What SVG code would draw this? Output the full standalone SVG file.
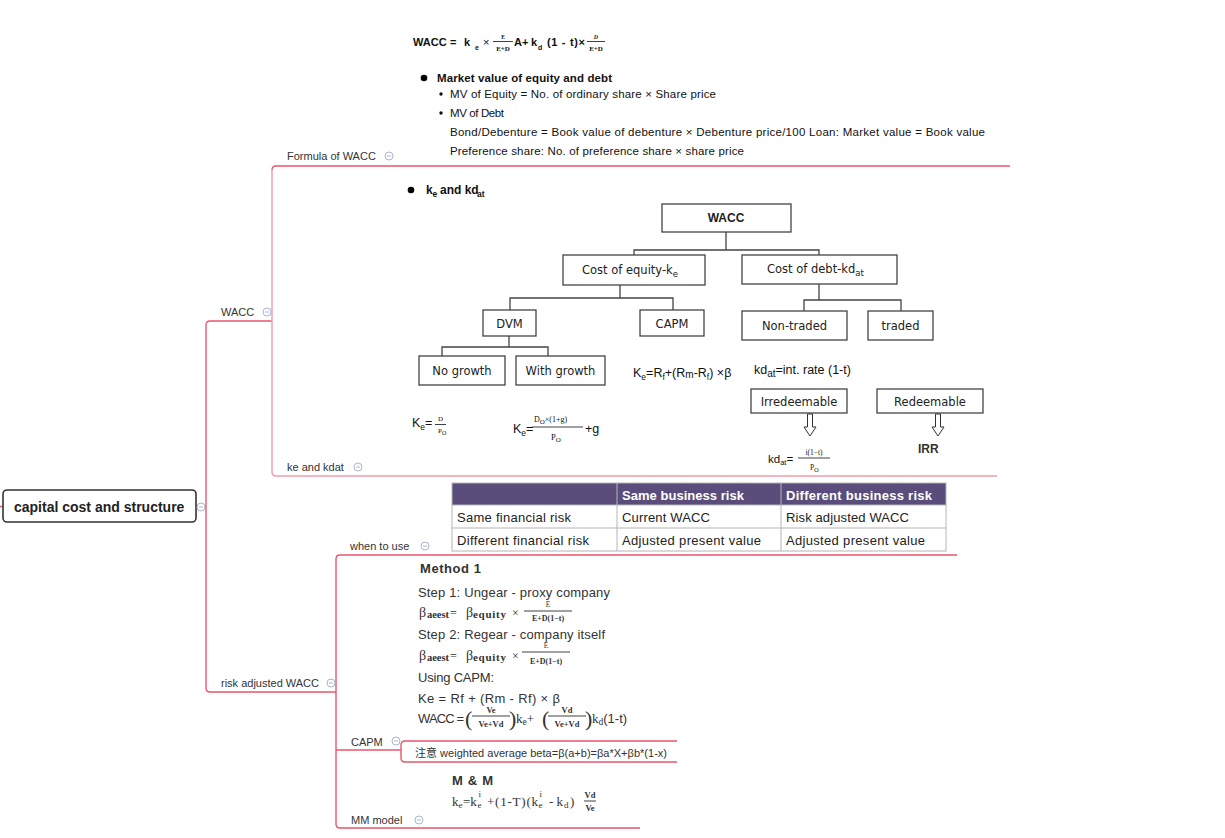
<svg xmlns="http://www.w3.org/2000/svg" width="1225" height="838" viewBox="0 0 1225 838">
<defs>
<style>
.lbl{font-family:"Liberation Sans",Arial,sans-serif;font-size:11px;fill:#333}
.icon circle{fill:#fff;stroke:#a9b6d3;stroke-width:1}
.icon line{stroke:#a9b6d3;stroke-width:1}
.conn{fill:none;stroke:#e8566e;stroke-width:1.4}
.connl{fill:none;stroke:#f29ba8;stroke-width:1.4}
.box{fill:#fff;stroke:#444;stroke-width:1.3}
.tree{fill:none;stroke:#444;stroke-width:1.3}
.bt{font-family:"DejaVu Sans",Verdana,sans-serif;font-size:11.5px;fill:#222}
.cal{font-family:"Liberation Sans",Arial,sans-serif;fill:#111}
.ser{font-family:"Liberation Serif","Times New Roman",serif;fill:#111}
.fr{stroke:#111;stroke-width:0.8}
.tb{font-family:"Liberation Sans",Arial,sans-serif;font-size:13px;fill:#222}
.m1{font-family:"Liberation Sans",Arial,sans-serif;font-size:13px;fill:#333}
</style>
</defs>
<rect width="1225" height="838" fill="#fff"/>

<g id="connectors">
<path class="conn" d="M0 506.5 H3"/>
<path class="conn" d="M196 506.5 H206"/>
<path class="conn" d="M272 321 H210 Q206 321 206 325 V688 Q206 692 210 692 H336"/>
<path class="conn" d="M1010 166 H276 Q272 166 272 170"/>
<path class="connl" d="M272 170 V472 Q272 476 276 476 H997"/>
<path class="conn" d="M957 555 H340 Q336 555 336 559 V824 Q336 828 340 828 H640"/>
<path class="conn" d="M336 750 H401"/>
<path class="conn" d="M677 741 H405 Q401 741 401 745 V758 Q401 762 405 762 H677"/>
</g>

<g id="root">
<rect x="3" y="490" width="193" height="32" rx="4" fill="#fff" stroke="#333" stroke-width="1.6"/>
<text x="14" y="512" font-family="Liberation Sans,Arial,sans-serif" font-size="14" font-weight="bold" fill="#222">capital cost and structure</text>
<g class="icon"><circle cx="201" cy="507" r="4"/><line x1="199" y1="507" x2="203" y2="507"/></g>
</g>

<g id="wacc">
<text class="lbl" x="221" y="316">WACC</text>
<g class="icon"><circle cx="267" cy="312" r="4"/><line x1="265" y1="312" x2="269" y2="312"/></g>
</g>

<g id="formula-of-wacc">
<text class="lbl" x="287" y="160">Formula of WACC</text>
<g class="icon"><circle cx="389" cy="156" r="4"/><line x1="387" y1="156" x2="391" y2="156"/></g>
<g class="cal" font-weight="bold" font-size="11">
<text x="413" y="46">WACC</text>
<text x="450" y="46">=</text>
<text x="464" y="46">k</text>
<text x="475" y="49.5" font-size="7">e</text>
<text x="483" y="46" font-weight="normal">×</text>
<text x="503" y="38.5" font-size="5.5" text-anchor="middle" class="ser">E</text>
<line class="fr" x1="493" y1="41.5" x2="513" y2="41.5"/>
<text x="503" y="51" font-size="7" text-anchor="middle" class="ser" font-weight="bold">E+D</text>
<text x="514" y="46">A+</text>
<text x="531" y="46">k</text>
<text x="538" y="49.5" font-size="7">d</text>
<text x="547" y="46" textLength="38">(1 - t)×</text>
<text x="596" y="38.5" font-size="6" text-anchor="middle" class="ser" font-style="italic">D</text>
<line class="fr" x1="587" y1="41.5" x2="605" y2="41.5"/>
<text x="596" y="51" font-size="7" text-anchor="middle" class="ser" font-weight="bold">E+D</text>
</g>
<circle cx="424" cy="78" r="3.3" fill="#000"/>
<text class="cal" x="437" y="82" font-size="11.5" font-weight="bold" textLength="175">Market value of equity and debt</text>
<circle cx="441" cy="94" r="1.7" fill="#111"/>
<text class="cal" x="450" y="98" font-size="11.5" textLength="266">MV of Equity = No. of ordinary share × Share price</text>
<circle cx="441" cy="113" r="1.7" fill="#111"/>
<text class="cal" x="450" y="117" font-size="11.5" textLength="54">MV of Debt</text>
<text class="cal" x="450" y="136" font-size="11.5" textLength="535">Bond/Debenture = Book value of debenture × Debenture price/100 Loan: Market value = Book value</text>
<text class="cal" x="450" y="155" font-size="11.5" textLength="294">Preference share: No. of preference share × share price</text>
</g>

<g id="ke-and-kdat">
<text class="lbl" x="287" y="471">ke and kdat</text>
<g class="icon"><circle cx="358" cy="467" r="4"/><line x1="356" y1="467" x2="360" y2="467"/></g>
<circle cx="411" cy="190" r="3.3" fill="#000"/>
<g class="cal" font-weight="bold" font-size="12">
<text x="426" y="194">k</text>
<text x="432.5" y="197" font-size="8.5">e</text>
<text x="440" y="194">and kd</text>
<text x="477" y="197" font-size="8.5">at</text>
</g>
<path class="tree" d="M726 232 V250 M634 255 V250 H819 V255 M620 285 V298 M510 310 V298 H673 V310 M819 284 V300 M804 311 V300 H901 V311 M509 335 V347 M442 356 V347 H548 V356"/>
<g id="n-wacc"><rect class="box" x="662" y="204" width="129" height="28"/><text x="726" y="222" text-anchor="middle" font-family="Liberation Sans,Arial,sans-serif" font-weight="bold" font-size="12" fill="#222">WACC</text></g>
<g id="n-equity"><rect class="box" x="563" y="255" width="142" height="30"/><text class="bt" x="582" y="274" font-size="12">Cost of equity-k<tspan font-size="8.5" dy="3">e</tspan></text></g>
<g id="n-debt"><rect class="box" x="742" y="255" width="155" height="29"/><text class="bt" x="767" y="273" font-size="12">Cost of debt-kd<tspan font-size="8.5" dy="3">at</tspan></text></g>
<g id="n-dvm"><rect class="box" x="483" y="310" width="53" height="26"/><text class="bt" x="509.5" y="328" text-anchor="middle">DVM</text></g>
<g id="n-capm"><rect class="box" x="640" y="310" width="64" height="26"/><text class="bt" x="672" y="328" text-anchor="middle">CAPM</text></g>
<g id="n-nontraded"><rect class="box" x="742" y="311" width="105" height="29"/><text class="bt" x="794.5" y="330" text-anchor="middle" font-size="12">Non-traded</text></g>
<g id="n-traded"><rect class="box" x="868" y="311" width="65" height="29"/><text class="bt" x="900.5" y="330" text-anchor="middle" font-size="12">traded</text></g>
<g id="n-nogrowth"><rect class="box" x="419" y="356" width="86" height="29"/><text class="bt" x="462" y="375" text-anchor="middle" font-size="12">No growth</text></g>
<g id="n-withgrowth"><rect class="box" x="516" y="356" width="89" height="29"/><text class="bt" x="560.5" y="375" text-anchor="middle" font-size="12">With growth</text></g>
<g id="n-irred"><rect class="box" x="751" y="389" width="96" height="24"/><text class="bt" x="799" y="406" text-anchor="middle">Irredeemable</text></g>
<g id="n-red"><rect class="box" x="877" y="389" width="106" height="24"/><text class="bt" x="930" y="406" text-anchor="middle">Redeemable</text></g>
<path d="M807.5 414 V427 H804 L810 436 L816 427 H812.5 V414 Z" fill="#fff" stroke="#333" stroke-width="1"/>
<path d="M935.5 414 V427 H932 L938 436 L944 427 H940.5 V414 Z" fill="#fff" stroke="#333" stroke-width="1"/>
<g class="cal" font-size="12.5">
<text x="633" y="377">K<tspan font-size="8.5" dy="3">e</tspan><tspan dy="-3">=R</tspan><tspan font-size="8.5" dy="3">f</tspan><tspan dy="-3">+(R</tspan><tspan font-size="10" dy="1">m</tspan><tspan dy="-1">-R</tspan><tspan font-size="8.5" dy="3">f</tspan><tspan dy="-3">) ×β</tspan></text>
<text x="754" y="374">kd<tspan font-size="10" dy="3">at</tspan><tspan dy="-3">=int. rate (1-t)</tspan></text>
<text x="412" y="427">K<tspan font-size="8.5" dy="3">e</tspan><tspan dy="-3">=</tspan></text>
<text x="513" y="433">K<tspan font-size="8.5" dy="3">e</tspan><tspan dy="-3">=</tspan></text>
<text x="585" y="433">+g</text>
<text x="768" y="463" font-size="11.5">kd<tspan font-size="7.5" dy="2">at</tspan><tspan dy="-2">=</tspan></text>
<text x="918" y="453" font-size="12" font-weight="bold" fill="#333">IRR</text>
</g>
<g class="ser">
<text x="440.5" y="421" font-size="7" text-anchor="middle">D</text>
<line class="fr" x1="435" y1="424.5" x2="446" y2="424.5"/>
<text x="438" y="433" font-size="7">P<tspan font-size="6" dy="1.5">O</tspan></text>
<text x="534" y="422" font-size="8">D<tspan font-size="7" dy="1.5">O</tspan><tspan dy="-1.5">×(1+g)</tspan></text>
<line class="fr" x1="532" y1="427" x2="583" y2="427"/>
<text x="551" y="440" font-size="8.5">P<tspan font-size="7" dy="1.5">O</tspan></text>
<text x="814" y="455" font-size="7.5" text-anchor="middle">i(1−t)</text>
<line class="fr" x1="798" y1="458" x2="830" y2="458"/>
<text x="810" y="470" font-size="7.5">P<tspan font-size="6" dy="1.5">O</tspan></text>
</g>
</g>

<g id="risk-adjusted-wacc">
<text class="lbl" x="221" y="687">risk adjusted WACC</text>
<g class="icon"><circle cx="331" cy="683" r="4"/><line x1="329" y1="683" x2="333" y2="683"/></g>
</g>

<g id="when-to-use">
<text class="lbl" x="350" y="550">when to use</text>
<g class="icon"><circle cx="425" cy="546" r="4"/><line x1="423" y1="546" x2="427" y2="546"/></g>
<rect x="452" y="483" width="494" height="22" fill="#5b4d7b"/>
<rect x="452" y="505" width="494" height="46" fill="#fff"/>
<g stroke="#b5b5b5" stroke-width="1" fill="none">
<rect x="452" y="483" width="494" height="68"/>
<line x1="452" y1="528" x2="946" y2="528"/>
<line x1="452" y1="505" x2="946" y2="505"/>
<line x1="617" y1="483" x2="617" y2="551"/>
<line x1="781" y1="483" x2="781" y2="551"/>
</g>
<text class="tb" x="622" y="500" font-weight="bold" style="fill:#fff" textLength="122">Same business risk</text>
<text class="tb" x="786" y="500" font-weight="bold" style="fill:#fff" textLength="146">Different business risk</text>
<text class="tb" x="457" y="522" textLength="114">Same financial risk</text>
<text class="tb" x="622" y="522" textLength="88">Current WACC</text>
<text class="tb" x="786" y="522" textLength="123">Risk adjusted WACC</text>
<text class="tb" x="457" y="545" textLength="132">Different financial risk</text>
<text class="tb" x="622" y="545" textLength="139">Adjusted present value</text>
<text class="tb" x="786" y="545" textLength="139">Adjusted present value</text>
</g>

<g id="capm">
<text class="lbl" x="351" y="746">CAPM</text>
<g class="icon"><circle cx="396" cy="741" r="4"/><line x1="394" y1="741" x2="398" y2="741"/></g>
<text class="m1" x="420" y="573" font-weight="bold" textLength="61">Method 1</text>
<text class="m1" x="418" y="597" textLength="192">Step 1: Ungear - proxy company</text>
<g class="ser" style="fill:#333">
<text x="419" y="617" font-size="14">β</text>
<text x="427" y="618" font-size="10.5" font-weight="bold" textLength="22">aeest</text>
<text x="450" y="617" font-size="12">=</text>
<text x="466" y="617" font-size="14">β</text>
<text x="473" y="618" font-size="11" font-weight="bold" textLength="33">equity</text>
<text x="512" y="617" font-size="12">×</text>
<text x="548" y="607" font-size="7.5" text-anchor="middle">E</text>
<line class="fr" x1="524" y1="611" x2="572" y2="611"/>
<text x="548" y="621" font-size="8" text-anchor="middle" font-weight="bold">E+D(1−t)</text>
<text x="419" y="660" font-size="14">β</text>
<text x="427" y="661" font-size="10.5" font-weight="bold" textLength="22">aeest</text>
<text x="450" y="660" font-size="12">=</text>
<text x="466" y="660" font-size="14">β</text>
<text x="473" y="661" font-size="11" font-weight="bold" textLength="33">equity</text>
<text x="512" y="660" font-size="12">×</text>
<text x="546" y="648" font-size="7.5" text-anchor="middle">E</text>
<line class="fr" x1="522" y1="652" x2="570" y2="652"/>
<text x="546" y="664" font-size="8" text-anchor="middle" font-weight="bold">E+D(1−t)</text>
</g>
<text class="m1" x="418" y="639" textLength="187">Step 2: Regear - company itself</text>
<text class="m1" x="418" y="682" textLength="76">Using CAPM:</text>
<text class="m1" x="418" y="703" textLength="142">Ke = Rf + (Rm - Rf) × β</text>
<text class="m1" x="418" y="723" textLength="46">WACC =</text>
<g class="ser" style="fill:#333">
<text x="465" y="726" font-size="22">(</text>
<text x="491" y="713" font-size="8.5" text-anchor="middle" font-weight="bold">Ve</text>
<line class="fr" x1="472" y1="716" x2="510" y2="716"/>
<text x="491" y="727" font-size="8.5" text-anchor="middle" font-weight="bold">Ve+Vd</text>
<text x="509" y="726" font-size="22">)</text>
<text x="516" y="723" font-size="13">k<tspan font-size="9.5" dy="2">e</tspan><tspan dy="-2">+</tspan></text>
<text x="542" y="726" font-size="22">(</text>
<text x="567" y="713" font-size="8.5" text-anchor="middle" font-weight="bold">Vd</text>
<line class="fr" x1="548" y1="716" x2="586" y2="716"/>
<text x="567" y="727" font-size="8.5" text-anchor="middle" font-weight="bold">Ve+Vd</text>
<text x="585" y="726" font-size="22">)</text>
<text x="592" y="723" font-size="13">k<tspan font-size="9.5" dy="2">d</tspan><tspan dy="-2" font-family="Liberation Sans,Arial,sans-serif">(1-t)</tspan></text>
</g>
</g>

<g id="capm-note">
<text x="415" y="757" font-family="Liberation Sans,Noto Sans CJK SC,sans-serif" font-size="11" fill="#333" textLength="252">注意 weighted average beta=β(a+b)=βa*X+βb*(1-x)</text>
</g>

<g id="mm-model">
<text class="lbl" x="351" y="824">MM model</text>
<g class="icon"><circle cx="419" cy="820" r="4"/><line x1="417" y1="820" x2="421" y2="820"/></g>
<text class="m1" x="452" y="785" font-weight="bold" textLength="41">M &amp; M</text>
<g class="ser" style="fill:#333" font-size="13">
<text x="452" y="806">k<tspan x="458.5" y="808" font-size="9">e</tspan><tspan x="463" y="806">=k</tspan><tspan x="477.5" y="808" font-size="9">e</tspan><tspan x="478.5" y="797" font-size="9">i</tspan><tspan x="487" y="806" textLength="51">+(1-T)(k</tspan><tspan x="538.5" y="808" font-size="9">e</tspan><tspan x="539.5" y="797" font-size="9">i</tspan><tspan x="549" y="806">- k</tspan><tspan x="564" y="808" font-size="9">d</tspan><tspan x="570" y="806">)</tspan></text>
<text x="590" y="798" font-size="8.5" text-anchor="middle" font-weight="bold">Vd</text>
<line class="fr" x1="584" y1="801" x2="596" y2="801"/>
<text x="590" y="811" font-size="8.5" text-anchor="middle" font-weight="bold">Ve</text>
</g>
</g>
</svg>
